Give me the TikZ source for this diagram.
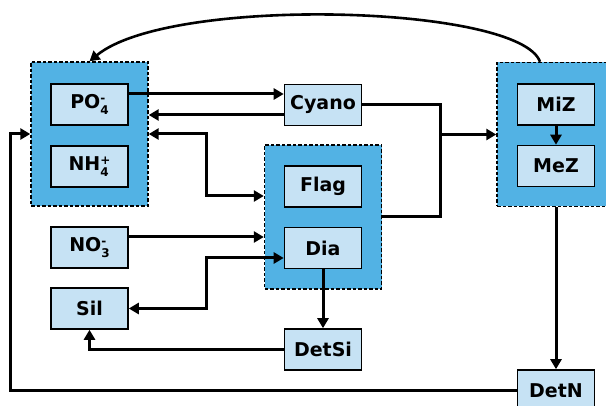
\documentclass[tikz,border=0pt]{standalone}
\usepackage{fontspec}
\setmainfont{DejaVu Sans}
\usetikzlibrary{calc, positioning, arrows.meta}

\definecolor{grpblue}{RGB}{82,178,228}
\definecolor{boxblue}{RGB}{198,226,244}

% charge above, count below
\newcommand{\ionlbl}[2]{\raisebox{-0.55ex}{\fontsize{12}{10.5}\selectfont\shortstack[l]{#1\\#2}}}

\begin{document}
\begin{tikzpicture}[
    x=1pt, y=-1pt,
    font=\fontsize{19}{22}\selectfont\bfseries,
    box/.style={draw, line width=1.6pt, fill=boxblue, minimum width=77pt, minimum height=41pt, inner sep=0pt},
    group_box/.style={draw, dash pattern=on 3.5pt off 2pt, line width=1.4pt, fill=grpblue, minimum width=117pt, minimum height=144pt, inner sep=0pt},
    flow_arrow/.style={line width=3pt, -{Triangle[length=10pt, width=11pt]}},
    both_arrow/.style={line width=3pt, {Triangle[length=10pt, width=11pt]}-{Triangle[length=10pt, width=11pt]}}
]

    \useasboundingbox (0,0) rectangle (606,406);

    % Groups
    \node[group_box] (nutgrp) at (89.5, 134) {};
    \node[group_box] (phygrp) at (323, 217) {};
    \node[group_box, minimum width=118pt] (zoogrp) at (556, 134.5) {};

    % Nodes
    \node[box] (po4) at (89.5, 104.5) {PO\ionlbl{-}{4}};
    \node[box] (nh4) at (89.5, 166.5) {NH\ionlbl{+}{4}};
    \node[box] (cyano) at (323, 105) {Cyano};
    \node[box] (flag) at (323, 186.5) {Flag};
    \node[box] (dia) at (323, 248) {Dia};
    \node[box] (miz) at (556, 104.5) {MiZ};
    \node[box] (mez) at (556, 166) {MeZ};
    \node[box] (no3) at (89.5, 247.5) {NO\ionlbl{-}{3}};
    \node[box] (sil) at (89.5, 308.5) {Sil};
    \node[box] (detsi) at (323, 349.5) {DetSi};
    \node[box] (detn) at (556, 390.5) {DetN};

    \coordinate (jr) at (440, 134.5);

    % Arrows
    \draw[flow_arrow] ([yshift=10.5pt]po4.east) -- ([yshift=10.5pt]po4.east -| cyano.west);
    \draw[flow_arrow] ([yshift=-10pt]cyano.west) -- ([yshift=-10pt]cyano.west -| nutgrp.east);
    \draw[both_arrow] (nutgrp.east) -- ++(58,0) |- ([yshift=21pt]phygrp.west);
    \draw[flow_arrow] ([yshift=10.5pt]no3.east) -- ([yshift=10.5pt]no3.east -| phygrp.west);
    \draw[both_arrow] (sil.east) -- ++(78,0) |- ([yshift=-10pt]dia.west);
    \draw[flow_arrow] (dia) -- (detsi);
    \draw[flow_arrow] (detsi.west) -| (sil.south);

    % Cyano and phyto to zoo
    \draw[line width=3pt] (cyano.east) -- (cyano.east -| jr) |- (phygrp.east);
    \draw[flow_arrow] (jr) -- (zoogrp.west);
    \draw[flow_arrow] (miz) -- (mez);
    \draw[flow_arrow] (zoogrp.south) -- (detn.north);

    % Detritus back to nutrients
    \draw[flow_arrow] (detn.west) -- ++(-506,0) |- (nutgrp.west);
    \draw[line width=2.6pt, -{Triangle[length=10pt, width=11pt]}] ([xshift=-16pt]zoogrp.north) .. controls (520,5) and (170,-5) .. (nutgrp.north);

\end{tikzpicture}
\end{document}
